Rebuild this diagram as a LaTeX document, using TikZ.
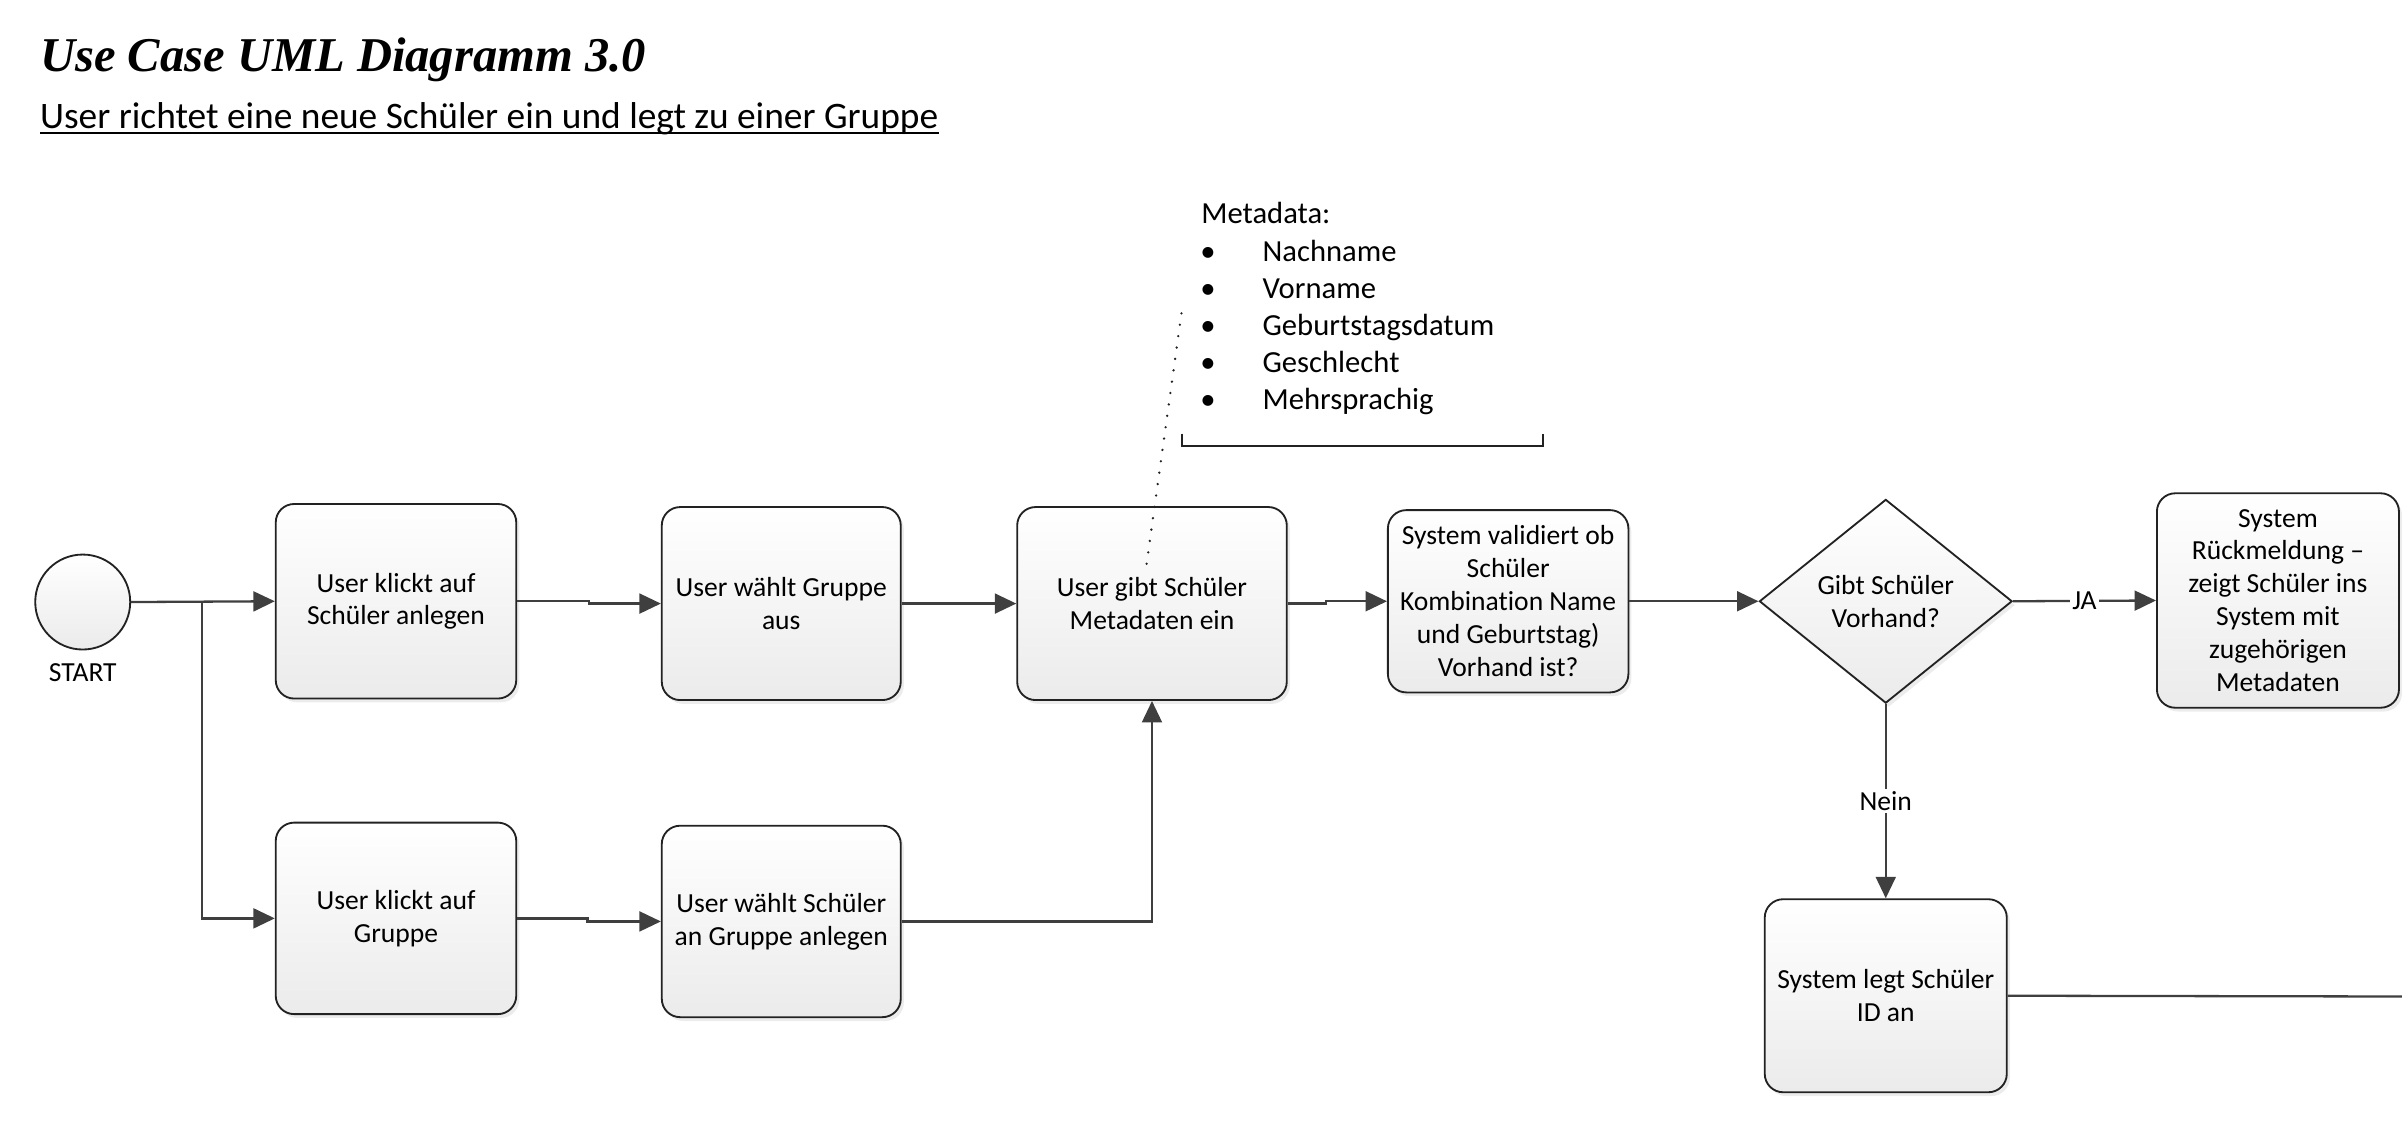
\documentclass[tikz,border=0pt]{standalone}
\usepackage{fontspec}
\setmainfont{Carlito}[Ligatures=NoCommon]
\newfontfamily\titlefont{Liberation Serif}
\usetikzlibrary{shapes.geometric,arrows.meta,shadows,calc}
\definecolor{linec}{HTML}{3F3F3F}
\definecolor{borderc}{HTML}{222222}
\definecolor{fillbot}{HTML}{EBEBEB}
\tikzset{
  box/.style={draw=borderc, line width=1.2pt, rounded corners=12pt,
    top color=white, bottom color=fillbot, inner sep=0pt, align=center,
    font=\fontsize{18}{21.5}\selectfont,
    drop shadow={shadow xshift=2pt, shadow yshift=-2.5pt, opacity=0.15}},
  dia/.style={diamond, draw=borderc, line width=1.2pt, top color=white,
    bottom color=fillbot, inner sep=0pt, align=center,
    font=\fontsize{18}{21.5}\selectfont,
    minimum width=165pt, minimum height=133pt,
    drop shadow={shadow xshift=2pt, shadow yshift=-2.5pt, opacity=0.15}},
  circ/.style={circle, draw=borderc, line width=1.2pt, top color=white,
    bottom color=fillbot, minimum size=62pt, inner sep=0pt},
  conn/.style={draw=linec, line width=1.5pt},
  arr/.style={conn, -{Triangle[length=14pt,width=13pt]}},
  lab/.style={fill=white, inner sep=1.5pt, font=\fontsize{18}{21}\selectfont},
  txt/.style={inner sep=0pt, font=\fontsize{18}{21}\selectfont},
  ann/.style={inner sep=0pt, font=\fontsize{20}{24}\selectfont},
  dotline/.style={draw=borderc, line width=1.7pt, line cap=round,
    dash pattern=on 0pt off 7.5pt},
}
\begin{document}
\begin{tikzpicture}[x=1pt,y=-1pt]
\useasboundingbox (0,0) rectangle (1568,749);

% titles
\node[anchor=base west, inner sep=0pt, font=\titlefont\bfseries\itshape\fontsize{31.7}{37}\selectfont] (title) at (26,46.4) {Use Case UML Diagramm 3.0};
\node[anchor=base west, inner sep=0pt, font=\fontsize{24.4}{29}\selectfont] (sub) at (26,84) {User richtet eine neue Schüler ein und legt zu einer Gruppe};
\draw[line width=1.2pt] ($(sub.base west)+(0,2.6)$) -- ($(sub.base east)+(0,2.6)$);

% start
\node[circ] (start) at (54,393) {};
\node[txt] (startlab) at (54,439) {START};

% boxes
\node[box, minimum width=157pt, minimum height=127pt] (b1) at (258.5,392.5) {User klickt auf\\Schüler anlegen};
\node[box, minimum width=156pt, minimum height=126pt] (b2) at (510,394) {User wählt Gruppe\\aus};
\node[box, minimum width=176pt, minimum height=126pt] (b3) at (752,394) {User gibt Schüler\\Metadaten ein};
\node[box, minimum width=157pt, minimum height=119pt] (b4) at (984.5,392.5) {System validiert ob\\Schüler\\Kombination Name\\und Geburtstag)\\Vorhand ist?};
\node[dia] (d) at (1231,392.5) {Gibt Schüler\\Vorhand?};
\node[box, minimum width=158pt, minimum height=140pt] (b5) at (1487,392) {System\\Rückmeldung –\\zeigt Schüler ins\\System mit\\zugehörigen\\Metadaten};
\node[box, minimum width=157pt, minimum height=125pt] (b6) at (258.5,599.5) {User klickt auf\\Gruppe};
\node[box, minimum width=156pt, minimum height=125pt] (b7) at (510,601.5) {User wählt Schüler\\an Gruppe anlegen};
\node[box, minimum width=158pt, minimum height=126pt] (b8) at (1231,650) {System legt Schüler\\ID an};

% annotation
\node[ann, anchor=base west] (m0) at (784,146) {Metadata:};
\foreach \t/\y [count=\i] in {Nachname/171, Vorname/194.7, Geburtstagsdatum/218.7, Geschlecht/243, Mehrsprachig/267.6}{
  \node[ann, anchor=base] (bl\i) at (788.5,\y) {•};
  \node[ann, anchor=base west] (m\i) at (824,\y) {\t};
}
\draw[draw=borderc, line width=1.2pt] (771.5,283) -- (771.5,291) -- (1007,291) -- (1007,283);
\coordinate (annot) at (772,199);
\coordinate (b3pin) at (748.5,368);
\draw[dotline] (b3pin) -- (annot);

% connectors
\coordinate (split) at (132,393);
\coordinate (edge) at (1568,650.5);
\draw[arr] (start.east) -- (b1.west);
\draw[arr] (split) |- (b6.west);
\draw[arr] (b1.east) -- ++(47,0) |- (b2.west);
\draw[arr] (b2.east) -- (b3.west);
\draw[arr] (b3.east) -- ++(25,0) |- (b4.west);
\draw[arr] (b4.east) -- (d.west);
\draw[arr] (d.east) -- node[lab] {JA} (b5.west);
\draw[arr] (d.south) -- node[lab] {Nein} (b8.north);
\draw[arr] (b6.east) -- ++(46,0) |- (b7.west);
\draw[arr] (b7.east) -| (b3.south);
\draw[conn] (b8.east) -- (edge);
\end{tikzpicture}
\end{document}
